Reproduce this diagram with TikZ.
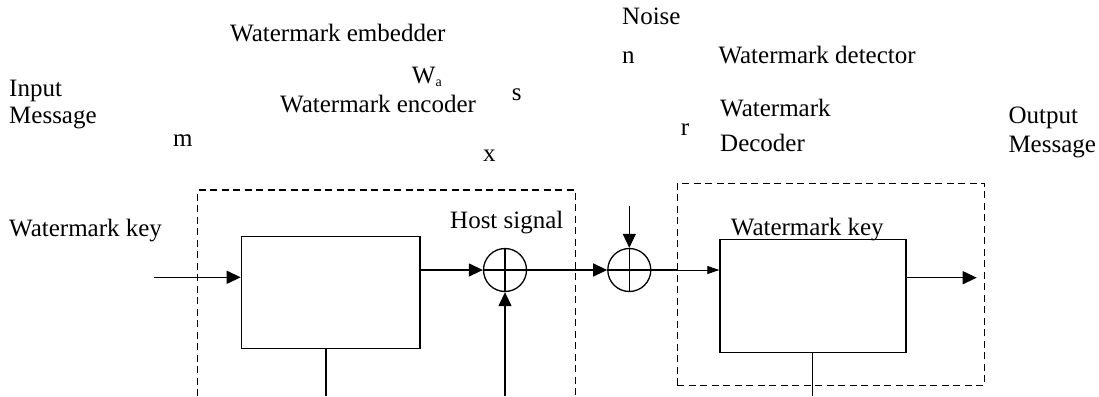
\documentclass[tikz,border=0pt]{standalone}
\usepackage{fontspec}
\setmainfont{Liberation Serif}
\usetikzlibrary{arrows.meta}
\tikzset{
  lbl/.style={font=\fontsize{25}{30}\selectfont, inner sep=0pt, anchor=base west},
  blk/.style={draw, line width=1.3pt, rectangle, inner sep=0pt, anchor=north west},
  dbox/.style={draw, line width=1.3pt, dash pattern=on 7pt off 4.5pt},
  sumnode/.style={circle, draw, line width=1.3pt, minimum size=43pt, inner sep=0pt},
  wire/.style={line width=1.3pt},
  arr/.style={line width=1.3pt, -{Triangle[length=14pt,width=13pt]}},
  thinarr/.style={line width=0.8pt, -{Triangle[length=12pt,width=8pt]}}
}
\begin{document}
\begin{tikzpicture}[x=1pt,y=-1pt]
\useasboundingbox (0,0) rectangle (1099,396);

% texts
\node[lbl] (tEmb) at (230,41.7) {Watermark embedder};
\node[lbl] (tWa) at (411.7,83.3) {W\raisebox{-3pt}{\fontsize{14}{14}\selectfont a}};
\node[lbl] (tEnc) at (280,112.7) {Watermark encoder};
\node[lbl] (tS) at (511.7,100) {s};
\node[lbl] (tIn1) at (9,96) {Input};
\node[lbl] (tIn2) at (9,123) {Message};
\node[lbl] (tM) at (173,146.7) {m};
\node[lbl] (tX) at (483,161.7) {x};
\node[lbl] (tKey1) at (9,236.7) {Watermark key};
\node[lbl] (tHost) at (450,228.3) {Host signal};
\node[lbl] (tNoise) at (622,25) {Noise};
\node[lbl] (tN) at (622,63.3) {n};
\node[lbl] (tDet) at (718.3,63.3) {Watermark detector};
\node[lbl] (tR) at (680.7,135) {r};
\node[lbl] (tDec1) at (720,116.7) {Watermark};
\node[lbl] (tDec2) at (720,151.7) {Decoder};
\node[lbl] (tOut1) at (1008.3,123.3) {Output};
\node[lbl] (tOut2) at (1008.3,152.3) {Message};

% left dashed box (open at the bottom)
\coordinate (eBL) at (197.7,396);
\coordinate (eTL) at (197.7,190);
\coordinate (eTR) at (575.7,190);
\coordinate (eBR) at (575.7,396);
\draw[dbox] (eBL) -- (eTL) -- (eTR) -- (eBR);

% right dashed box
\node[dbox, rectangle, inner sep=0pt, anchor=north west, minimum width=307.3pt, minimum height=202.3pt] (detbox) at (676.7,182.7) {};

% blocks
\node[blk, minimum width=178.6pt, minimum height=112pt] (enc) at (240.7,235.7) {};
\node[blk, minimum width=186pt, minimum height=113pt] (dec) at (719.3,239) {};
\node[lbl] (tKey2) at (730.7,235) {Watermark key};

% summing junctions
\node[sumnode] (c1) at (505,270) {};
\node[sumnode] (c2) at (629.3,270) {};
\draw[wire] (c1.north) -- (c1.south) (c1.west) -- (c1.east);
\draw[wire] (c2.north) -- (c2.south) (c2.west) -- (c2.east);

% connectors
\coordinate (inA) at (154,277.3);
\draw[arr] (inA) -- (inA -| enc.west);
\draw[arr] (enc.east |- c1) -- (c1.west);
\coordinate (encB) at (326,396);
\draw[wire] (encB |- enc.south) -- (encB);
\coordinate (hostIn) at (505,396);
\draw[arr] (hostIn) -- (c1.south);
\draw[arr] (c1.east) -- (c2.west);
\coordinate (nz) at (629.3,206);
\draw[arr] (nz) -- (c2.north);
\coordinate (dIn) at (c2.east -| detbox.west);
\draw[wire] (c2.east) -- (dIn);
\draw[thinarr] (dIn) -- (dIn -| dec.west);
\coordinate (outE) at (976.7,277.7);
\draw[arr] (outE -| dec.east) -- (outE);
\coordinate (decB) at (812.7,396);
\draw[wire] (decB |- dec.south) -- (decB);
\end{tikzpicture}
\end{document}
